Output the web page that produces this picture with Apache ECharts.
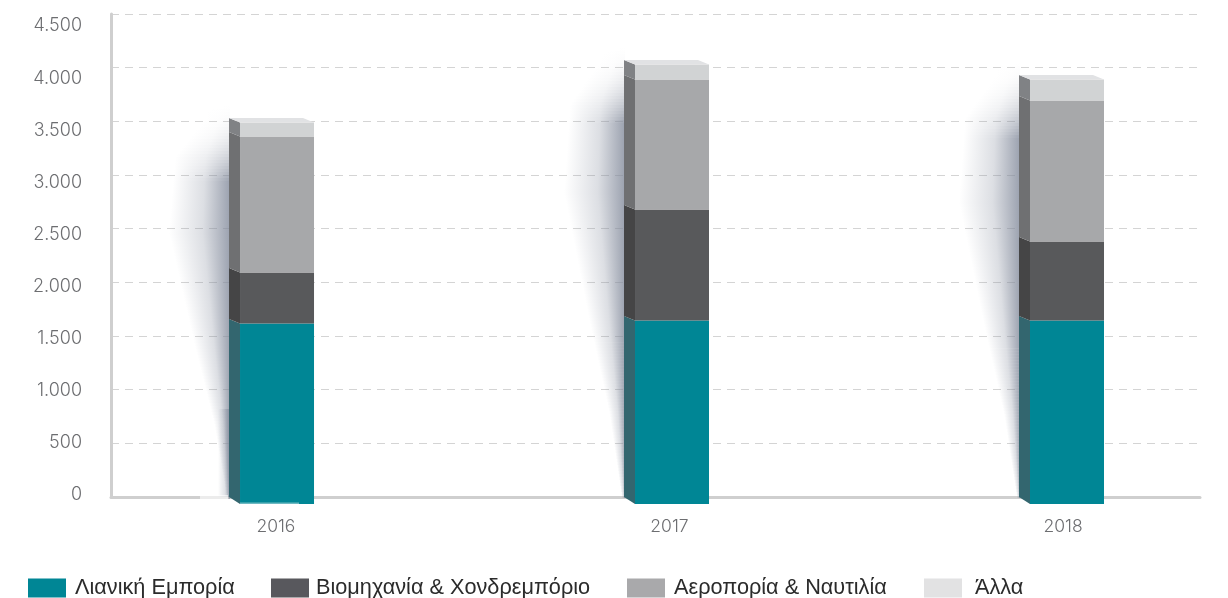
<!DOCTYPE html>
<html>
<head>
<meta charset="utf-8">
<style>
  html, body { margin: 0; padding: 0; background: #fff; }
  #chart { width: 1228px; height: 598px; }
</style>
<script src="https://cdn.jsdelivr.net/npm/echarts@6/dist/echarts.min.js"></script>
</head>
<body>
<div id="chart"></div>
<script>
const years = [2016, 2017, 2018];
const yTicks = [0, 500, 1000, 1500, 2000, 2500, 3000, 3500, 4000, 4500];
const seriesNames = ['Λιανική Εμπορία', 'Βιομηχανία & Χονδρεμπόριο', 'Αεροπορία & Ναυτιλία', 'Άλλα'];
const retail = [1658, 1686, 1686];
const industry = [475, 1034, 736];
const aviation = [1267, 1211, 1314];
const other = [131, 140, 195];

const frontColors = ['#008695', '#58595b', '#a7a8aa', '#d1d3d4'];
const sideColors = ['#33666f', '#454546', '#6f7072', '#808285'];
const legendColors = ['#008695', '#58585d', '#a9a9ab', '#e2e2e3'];
const legendLefts = [28, 271, 627, 924];
const legendTextGaps = [4, 2, 4, 8];
const topColor = '#e1e2e4';
const stacks = [retail, industry, aviation, other];

const sideW = 11, frontW = 74, depth = 4.5, footDrop = 7;

function fmt(v) {
  return String(v).replace(/\B(?=(\d{3})+$)/g, '.');
}

function renderSegment(k) {
  return function (params, api) {
    const x = api.coord([api.value(0), 0])[0];
    const y0 = api.coord([api.value(0), api.value(1)])[1];
    const y1 = api.coord([api.value(0), api.value(2)])[1];
    const left = x - frontW / 2;
    const backL = left - sideW;
    const right = left + frontW;
    const footF = k === 0 ? y0 + footDrop : y0 + depth;
    const children = [
      { type: 'polygon', shape: { points: [[backL, y1], [left, y1 + depth], [left, footF], [backL, y0]] },
        style: { fill: sideColors[k] } },
      { type: 'rect', shape: { x: left, y: y1 + depth, width: frontW, height: footF - y1 - depth },
        style: { fill: frontColors[k] } }
    ];
    if (k === stacks.length - 1) {
      children.push({ type: 'polygon',
        shape: { points: [[backL, y1], [right - 11, y1], [right, y1 + depth], [left, y1 + depth]] },
        style: { fill: topColor } });
    }
    // pale edge under the first bar
    if (k === 0 && params.dataIndex === 0) {
      children.push({ type: 'rect', shape: { x: left, y: footF - 1.5, width: 59, height: 1.5 },
        style: { fill: '#6fb9c2' } });
    }
    return { type: 'group', children: children };
  };
}

// soft shadow left of each bar, built from thin slices with a sideways fade
const shadowWidths = [[0, 24], [0.1, 54], [0.3, 60], [0.6, 34], [0.8, 15], [1, 2]];
function shadowWidth(t) {
  for (let i = 1; i < shadowWidths.length; i++) {
    const a = shadowWidths[i - 1], b = shadowWidths[i];
    if (t <= b[0]) return a[1] + (b[1] - a[1]) * (t - a[0]) / (b[0] - a[0]);
  }
  return 2;
}

function fade(x0, x1, alpha) {
  return {
    type: 'linear', x: x0, y: 0, x2: x1, y2: 0, global: true,
    colorStops: [
      { offset: 0, color: 'rgba(130,138,155,0)' },
      { offset: 0.55, color: 'rgba(130,138,155,' + (alpha * 0.35) + ')' },
      { offset: 1, color: 'rgba(130,138,155,' + alpha + ')' }
    ]
  };
}

function renderShadow(params, api) {
  const x = api.coord([api.value(0), 0])[0];
  const top = api.coord([api.value(0), api.value(1)])[1];
  const bottom = api.coord([api.value(0), 0])[1];
  const L = x - frontW / 2 - sideW;
  const children = [];
  const start = top - 18, step = 3;
  for (let y = start; y < bottom; y += step) {
    const t = Math.max(0, (y - top) / (bottom - top));
    const ramp = Math.min(1, (y - start) / 80);
    const alpha = 0.8 * ramp * ramp;
    const w = shadowWidth(t);
    children.push({ type: 'rect', shape: { x: L - w, y: y, width: w + 1, height: step },
      style: { fill: fade(L - w, L + 1, alpha) } });
  }
  if (params.dataIndex === 0) {
    children.push({ type: 'rect', shape: { x: L - 11, y: 409, width: 12, height: 88 },
      style: { fill: fade(L - 11, L + 1, 0.7) } });
    children.push({ type: 'rect', shape: { x: L - 29, y: 495, width: 28, height: 4 },
      style: { fill: 'rgba(255,255,255,0.6)' } });
  }
  return { type: 'group', children: children };
}

function stackData(k) {
  return years.map((y, i) => {
    let base = 0;
    for (let j = 0; j < k; j++) base += stacks[j][i];
    return [y, base, base + stacks[k][i]];
  });
}

const totals = years.map((y, i) => [y, stacks.reduce((s, a) => s + a[i], 0)]);

const series = [{
  type: 'custom',
  silent: true,
  xAxisIndex: 1,
  yAxisIndex: 0,
  z: 1,
  renderItem: renderShadow,
  data: totals
}].concat(seriesNames.map((name, k) => ({
  name: name,
  type: 'custom',
  xAxisIndex: 1,
  yAxisIndex: 0,
  z: 3,
  itemStyle: { color: legendColors[k] },
  renderItem: renderSegment(k),
  data: stackData(k)
})));

const chart = echarts.init(document.getElementById('chart'), null, { renderer: 'canvas' });
chart.setOption({
  animation: false,
  backgroundColor: '#fff',
  textStyle: { fontFamily: 'Inter, sans-serif' },
  legend: seriesNames.map((name, k) => ({
    left: legendLefts[k],
    top: 577,
    padding: 0,
    itemWidth: 38,
    itemHeight: 19,
    icon: 'rect',
    selectedMode: false,
    data: [name],
    textStyle: { fontFamily: '"Liberation Sans", sans-serif', fontSize: 21.7, color: '#2b2b2b', padding: [2, 0, 0, legendTextGaps[k]] }
  })),
  grid: [
    { left: 111, right: 28, top: 14, height: 483 },
    { left: 111, right: 28, top: 26, height: 469 }
  ],
  xAxis: [
    {
      type: 'value', gridIndex: 0, min: 2015.581, max: 2018.348,
      splitLine: { show: false },
      axisTick: { show: false },
      axisLine: { show: true, lineStyle: { color: '#cfcfcf', width: 3 } },
      axisLabel: { customValues: years, formatter: v => String(v), margin: 21, fontSize: 17.5, fontWeight: 300, color: '#6d6e71' }
    },
    { type: 'value', gridIndex: 0, min: 2015.5797, max: 2018.3367, show: false },
    { type: 'value', gridIndex: 1, min: 0, max: 1, show: false }
  ],
  yAxis: [
    {
      type: 'value', gridIndex: 0, min: 0, max: 4500, interval: 500,
      axisLine: { show: true, lineStyle: { color: '#cfcfcf', width: 3 } },
      axisTick: { show: false },
      axisLabel: { show: false },
      splitLine: { show: true, lineStyle: { color: '#d4d4d4', width: 1.2, type: [8, 6] } }
    },
    {
      type: 'value', gridIndex: 1, min: yTicks[0], max: yTicks[yTicks.length - 1], interval: 500,
      axisLine: { show: false },
      axisTick: { show: false },
      splitLine: { show: false },
      axisLabel: { formatter: fmt, margin: 29, fontSize: 18, fontWeight: 300, color: '#6d6e71' }
    }
  ],
  series: series
});
</script>
</body>
</html>
